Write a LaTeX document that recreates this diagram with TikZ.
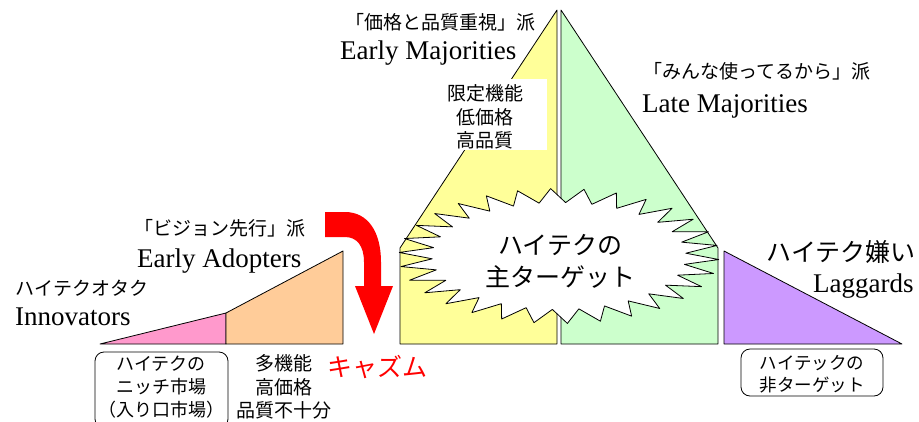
\documentclass[tikz,border=0pt]{standalone}
\usepackage{fontspec}
\setmainfont{Liberation Serif}
\newfontfamily\jp{Noto Sans CJK JP}
\definecolor{cyellow}{HTML}{FFFF99}
\definecolor{cgreen}{HTML}{CCFFCC}
\definecolor{cpink}{HTML}{FF99CC}
\definecolor{corange}{HTML}{FFCC99}
\definecolor{cpurple}{HTML}{CC99FF}
\definecolor{cred}{HTML}{FF0000}
\tikzset{
  outl/.style={draw=black, line width=0.8pt, line join=round},
  jplab/.style={font=\jp\fontsize{19}{23.5}\selectfont, inner sep=0pt, align=center},
  jpsmall/.style={font=\jp\fontsize{18}{23}\selectfont, inner sep=0pt, align=center},
  jpbig/.style={font=\jp\fontsize{25}{32}\selectfont, inner sep=0pt, align=center},
  enlab/.style={font=\fontsize{27}{30}\selectfont, inner sep=0pt, anchor=base west},
  rbox/.style={draw=black, line width=0.8pt, rounded corners=9pt},
}
\begin{document}
\begin{tikzpicture}[x=1pt,y=-1pt]
\useasboundingbox (0,0) rectangle (919,421);
% pyramid
\fill[cyellow] (400,344) -- (400,248) -- (557,10) -- (557,344) -- cycle;
\draw[outl] (400,344) -- (400,248) -- (557,10) -- (557,344) -- cycle;
\fill[cgreen] (561,344) -- (561,10) -- (718,248) -- (718,344) -- cycle;
\draw[outl] (561,344) -- (561,10) -- (718,248) -- (718,344) -- cycle;
% starburst
\draw[outl, fill=white] plot[samples=61, domain=0:60, variable=\k]
  ({559+(143.5+16.5*cos(\k*180))*cos(\k*6+3)}, {256+(60.5+7*cos(\k*180))*sin(\k*6+3)}) -- cycle;
\node[jpbig] (target) at (560,261) {ハイテクの\\主ターゲット};
% white label box in yellow area
\fill[white] (445,79) rectangle (547,150);
\node[jplab] (emfeat) at (485,117) {限定機能\\低価格\\高品質};
% left triangles
\fill[cpink] (100,344) -- (226,313) -- (226,344) -- cycle;
\draw[outl] (100,344) -- (226,313) -- (226,344) -- cycle;
\fill[corange] (226,344) -- (226,313) -- (343,251) -- (343,344) -- cycle;
\draw[outl] (226,344) -- (226,313) -- (343,251) -- (343,344) -- cycle;
% laggards triangle
\fill[cpurple] (724,251) -- (724,344) -- (902,344) -- cycle;
\draw[outl] (724,251) -- (724,344) -- (902,344) -- cycle;
% red chasm arrow
\fill[cred] (325,212) -- (345,212) .. controls (368,212) and (381,232) .. (381,262)
  -- (381,286) -- (393,286) -- (374,334) -- (355,286) -- (364,286) -- (364,262)
  .. controls (364,246) and (357,237) .. (345,237) -- (325,237) -- cycle;
% labels
\node[jplab] (emjp) at (440,22) {「価格と品質重視」派};
\node[enlab] (emen) at (340,59) {Early Majorities};
\node[jplab] (lmjp) at (757,71) {「みんな使ってるから」派};
\node[enlab] (lmen) at (642,112) {Late Majorities};
\node[jplab] (eajp) at (220,228) {「ビジョン先行」派};
\node[enlab] (eaen) at (137,267) {Early Adopters};
\node[jplab] (injp) at (82,288) {ハイテクオタク};
\node[enlab] (inen) at (15,325) {Innovators};
\node[jpbig] (lgjp) at (841,252) {ハイテク嫌い};
\node[enlab] (lgen) at (813,292) {Laggards};
\node[jpbig, text=cred] (chasm) at (377,367) {キャズム};
\node[jplab] (eafeat) at (284,387) {多機能\\高価格\\品質不十分};
% rounded boxes
\begin{scope}
\clip (0,0) rectangle (919,421);
\draw[rbox] (95,352) rectangle (228,428);
\end{scope}
\node[jpsmall] (niche) at (161,387) {ハイテクの\\ニッチ市場\\（入り口市場）};
\draw[rbox] (741,349) rectangle (883,396);
\node[jpsmall, font=\jp\fontsize{17.5}{22}\selectfont] (nontarget) at (812,374) {ハイテックの\\非ターゲット};
\end{tikzpicture}
\end{document}
